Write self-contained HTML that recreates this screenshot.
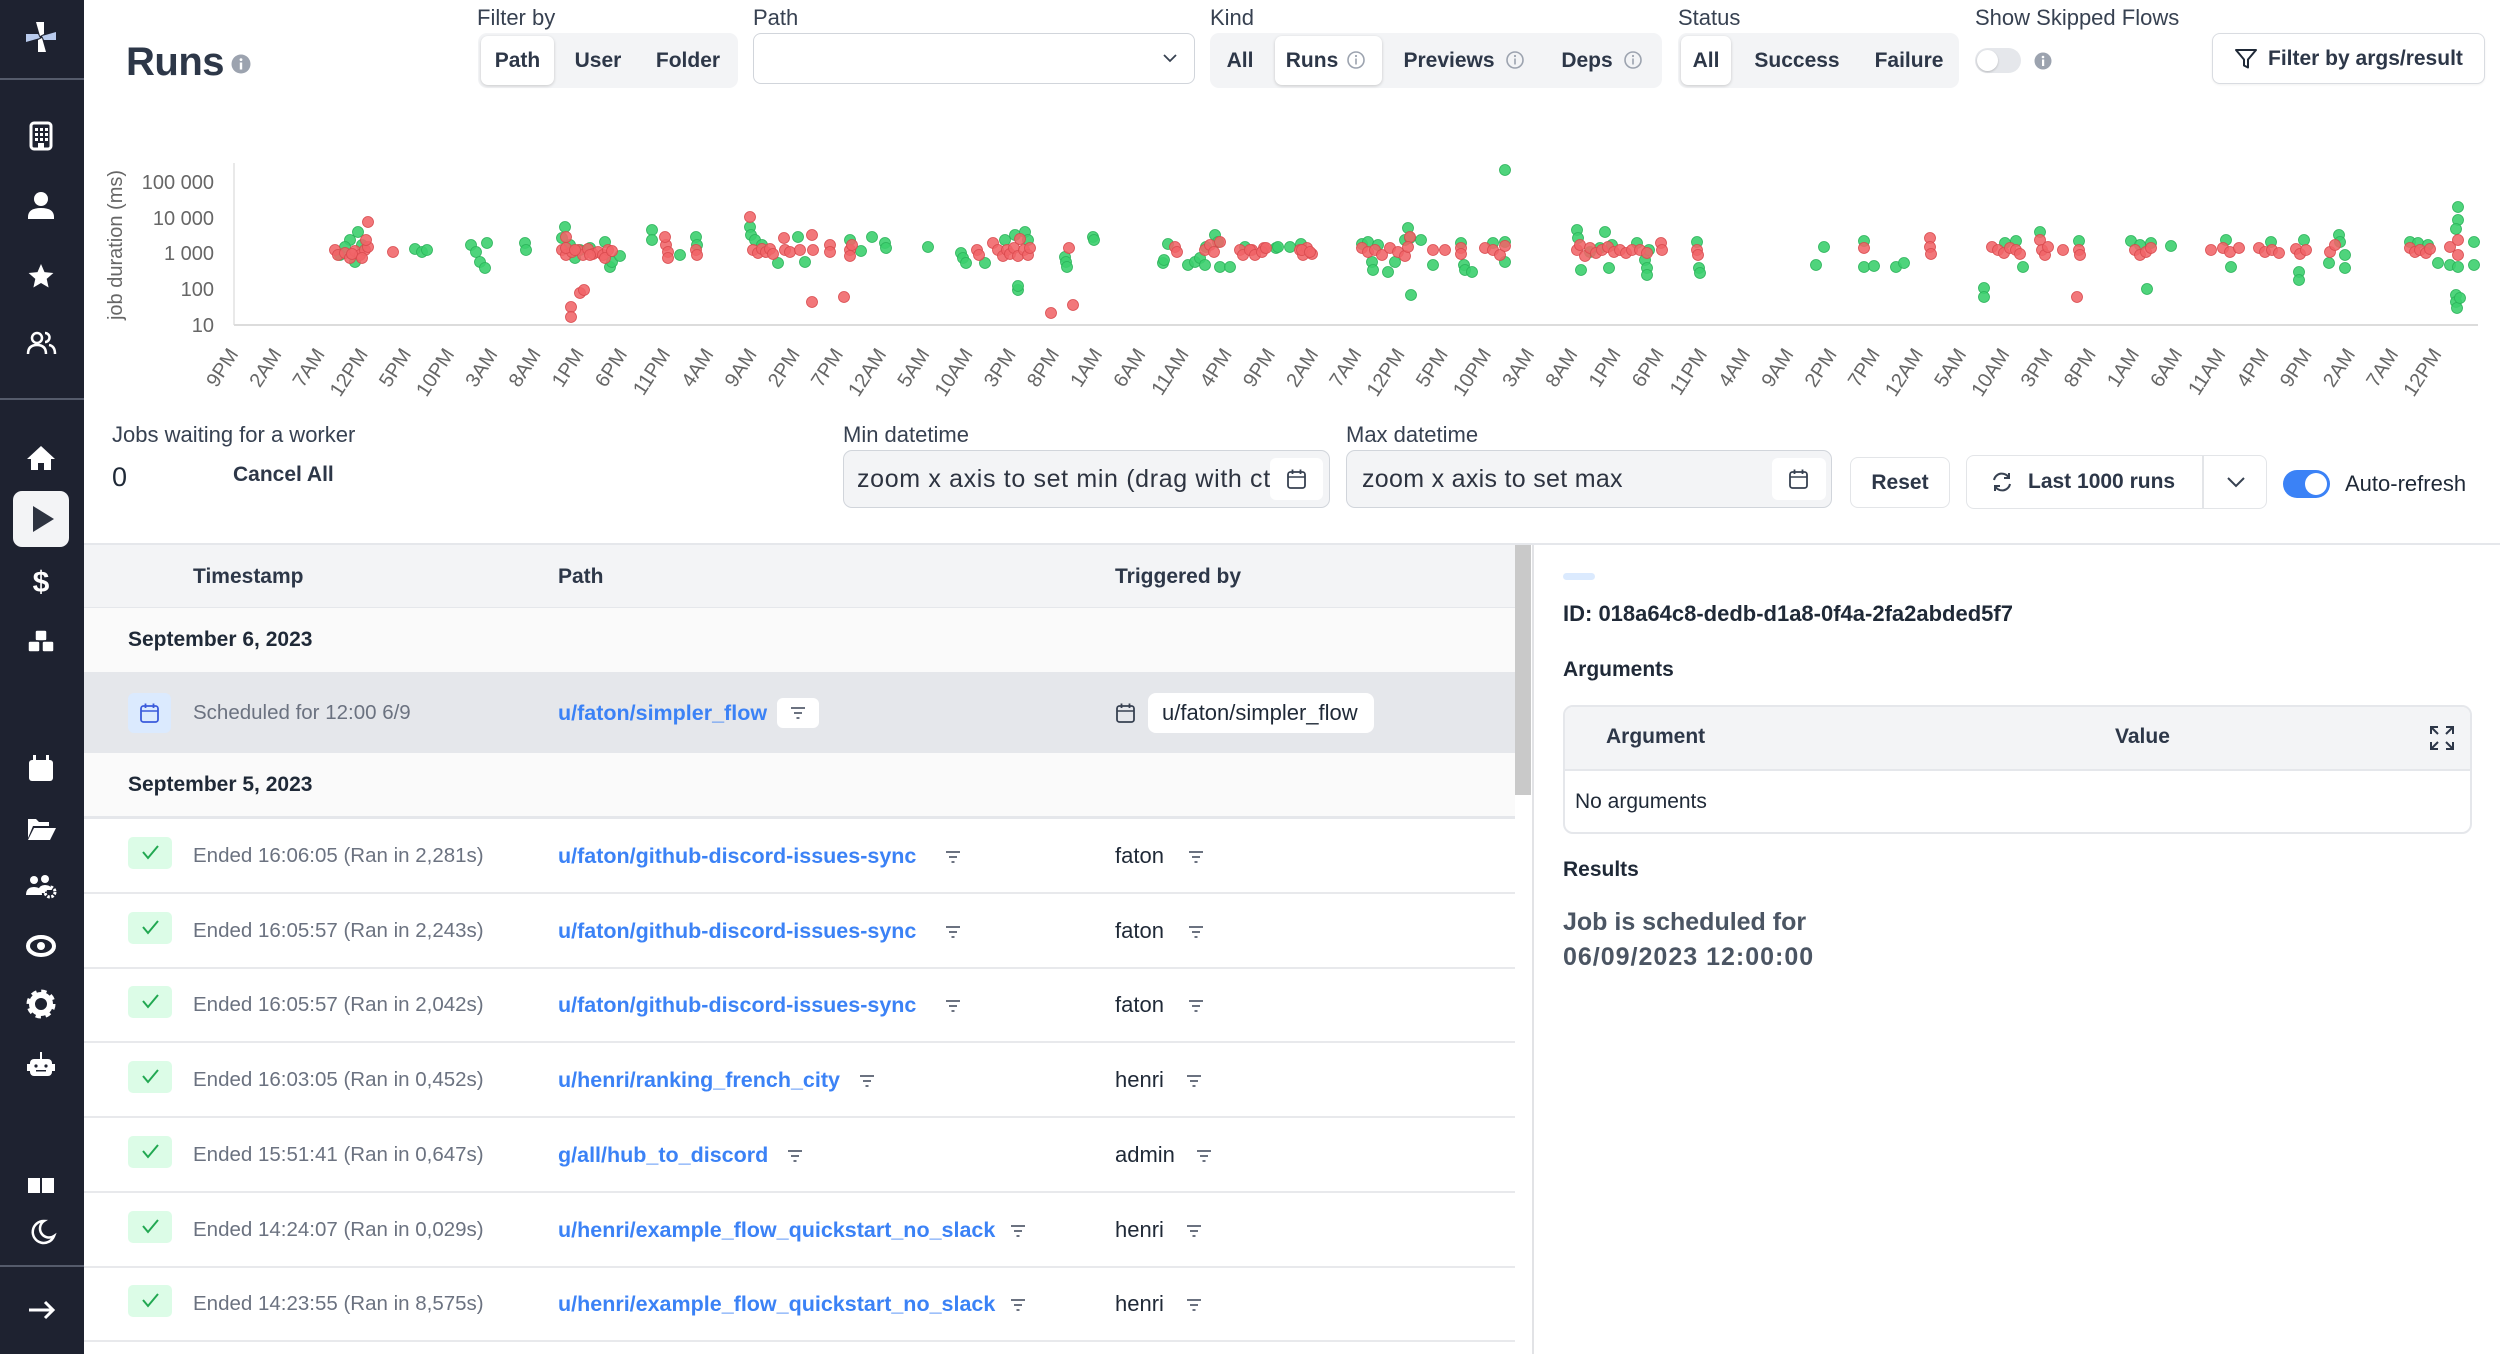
<!DOCTYPE html>
<html><head><meta charset="utf-8">
<style>
*{box-sizing:border-box;margin:0;padding:0}
html,body{width:2500px;height:1354px;overflow:hidden;background:#fff;font-family:"Liberation Sans",Arial,sans-serif;color:#1f2937}
.a{position:absolute}
.c{position:absolute;display:flex;align-items:center;justify-content:center;white-space:nowrap}
.l{position:absolute;display:flex;align-items:center;white-space:nowrap}
.b{font-weight:bold;font-size:21px;color:#2d3748}
.lab{font-size:22px;color:#374151}
.seg{position:absolute;background:#f3f4f6;border-radius:9px}
.sel{position:absolute;background:#fff;border-radius:7px;box-shadow:0 1px 3px rgba(0,0,0,.18)}
.g{font-size:20.5px;color:#6b7280}
.lk{font-size:21.5px;font-weight:bold;color:#3b82f6}
.tb{font-size:22px;color:#1f2937}
.ok{position:absolute;left:128px;width:44px;height:32px;background:#dcfce7;border-radius:5px}
.sep{position:absolute;left:84px;width:1431px;height:2px;background:#e8e9ec}
</style></head><body>

<!-- SIDEBAR -->
<svg class="a" style="left:0;top:0" width="84" height="1354">
<rect width="84" height="1354" fill="#1e2230"/>
<rect x="0" y="78" width="84" height="2" fill="#555b6b"/>
<rect x="0" y="398" width="84" height="2" fill="#555b6b"/>
<rect x="0" y="1265" width="84" height="2" fill="#555b6b"/>
<g transform="translate(41,37)">
<polygon points="-1,-1 -5,-15 3,-15 3,-3" fill="#fff"/>
<polygon points="-1,-1 -5,-15 3,-15 3,-3" fill="#b9cbed" transform="rotate(90)"/>
<polygon points="-1,-1 -5,-15 3,-15 3,-3" fill="#fff" transform="rotate(180)"/>
<polygon points="-1,-1 -5,-15 3,-15 3,-3" fill="#b9cbed" transform="rotate(270)"/>
</g>
<g fill="#fff">
<rect x="31" y="123" width="20" height="26" rx="3" fill="none" stroke="#fff" stroke-width="3"/>
<rect x="35" y="128" width="3" height="3"/><rect x="40" y="128" width="3" height="3"/><rect x="45" y="128" width="3" height="3"/>
<rect x="35" y="133" width="3" height="3"/><rect x="40" y="133" width="3" height="3"/><rect x="45" y="133" width="3" height="3"/>
<rect x="35" y="138" width="3" height="3"/><rect x="40" y="138" width="3" height="3"/><rect x="45" y="138" width="3" height="3"/>
<rect x="38" y="143" width="6" height="6"/>
<circle cx="41" cy="199" r="7"/>
<path d="M28,217 q0,-9 13,-9 q13,0 13,9 v2 h-26z"/>
<polygon points="41,264 44.5,272.1 53.4,273 46.7,278.9 48.6,287.5 41,283 33.4,287.5 35.3,278.9 28.6,273 37.5,272.1"/>
<g fill="none" stroke="#fff" stroke-width="2.5"><circle cx="37" cy="338" r="5"/><path d="M28,354 q0,-9 9,-9 q9,0 9,9"/><path d="M45,333 a4.5,4.5 0 0 1 0,9"/><path d="M49,345 q6,1 6,9"/></g>
<polygon points="41,446 27,459 31,459 31,470 38,470 38,463 44,463 44,470 51,470 51,459 55,459"/>
<rect x="13" y="491" width="56" height="56" rx="9" fill="#f3f4f6"/>
<polygon points="33,506 33,532 54,519" fill="#2d3340"/>
<text x="41" y="592" text-anchor="middle" font-size="30" font-weight="bold" font-family="Liberation Sans">$</text>
<rect x="35" y="630" width="12" height="11" rx="2" stroke="#1e2230" stroke-width="1.5"/>
<rect x="28" y="641" width="12" height="11" rx="2" stroke="#1e2230" stroke-width="1.5"/>
<rect x="42" y="641" width="12" height="11" rx="2" stroke="#1e2230" stroke-width="1.5"/>
<rect x="29" y="760" width="24" height="21" rx="3"/>
<rect x="33" y="755" width="3" height="7"/><rect x="46" y="755" width="3" height="7"/>
<path d="M28,819 h8 l3,3 h10 v4 h-16 l-5,12 z"/>
<path d="M34,828 h22 l-6,12 h-22z"/>
<circle cx="34" cy="880" r="4"/><circle cx="45" cy="879" r="4"/>
<path d="M26,895 q0,-8 8,-8 q8,0 8,8z"/>
<path d="M38,893 q0,-8 7,-8 q6,0 7,5 h-7 v3z"/>
<circle cx="50" cy="892" r="5" fill="none" stroke="#fff" stroke-width="3" stroke-dasharray="2.5 1.5"/>
<ellipse cx="41" cy="946" rx="13" ry="9" fill="none" stroke="#fff" stroke-width="4"/>
<circle cx="41" cy="946" r="4"/>
<circle cx="41" cy="1004" r="9" fill="none" stroke="#fff" stroke-width="6"/>
<circle cx="41" cy="1004" r="12" fill="none" stroke="#fff" stroke-width="5" stroke-dasharray="5 4.4"/>
<rect x="30" y="1059" width="22" height="17" rx="4"/>
<rect x="27" y="1064" width="3" height="7"/><rect x="52" y="1064" width="3" height="7"/>
<rect x="40" y="1052" width="2" height="7"/>
<circle cx="36" cy="1066" r="1.6" fill="#1e2230"/><circle cx="46" cy="1066" r="1.6" fill="#1e2230"/>
<rect x="36" y="1070" width="10" height="1.5" fill="#1e2230"/>
<rect x="28" y="1178" width="12" height="15"/><rect x="42" y="1178" width="12" height="15"/>
<path d="M44,1221 a11,11 0 1 0 10,15 a9,9 0 0 1 -10,-15z" fill="none" stroke="#fff" stroke-width="2.5"/>
<line x1="29" y1="1310" x2="53" y2="1310" stroke="#fff" stroke-width="3"/>
<polyline points="45,1302 53,1310 45,1318" fill="none" stroke="#fff" stroke-width="3"/>
</g>
</svg>

<!-- HEADER -->
<div class="a" style="left:126px;top:42px;font-size:40px;font-weight:bold;color:#2d3748;letter-spacing:-0.5px;line-height:1">Runs</div>
<svg class="a" style="left:231px;top:54px" width="20" height="20"><circle cx="10" cy="10" r="9.5" fill="#9ca3af"/><rect x="8.8" y="8.5" width="2.4" height="7" fill="#fff"/><circle cx="10" cy="5.6" r="1.4" fill="#fff"/></svg>

<div class="l lab" style="left:477px;top:0;height:36px">Filter by</div>
<div class="l lab" style="left:753px;top:0;height:36px">Path</div>
<div class="l lab" style="left:1210px;top:0;height:36px">Kind</div>
<div class="l lab" style="left:1678px;top:0;height:36px">Status</div>
<div class="l lab" style="left:1975px;top:0;height:36px">Show Skipped Flows</div>

<div class="seg" style="left:478px;top:33px;width:260px;height:55px"></div>
<div class="sel" style="left:481px;top:36px;width:73px;height:49px"></div>
<div class="c b" style="left:481px;top:36px;width:73px;height:49px">Path</div>
<div class="c b" style="left:558px;top:36px;width:80px;height:49px">User</div>
<div class="c b" style="left:648px;top:36px;width:80px;height:49px">Folder</div>

<div class="a" style="left:753px;top:33px;width:442px;height:51px;border:1.5px solid #d1d5db;border-radius:8px;background:#fff"></div>
<svg class="a" style="left:1162px;top:52px" width="16" height="12"><polyline points="2,3 8,9 14,3" fill="none" stroke="#374151" stroke-width="1.8"/></svg>

<div class="seg" style="left:1210px;top:33px;width:452px;height:55px"></div>
<div class="sel" style="left:1275px;top:36px;width:107px;height:49px"></div>
<div class="c b" style="left:1220px;top:36px;width:40px;height:49px">All</div>
<div class="c b" style="left:1282px;top:36px;width:60px;height:49px">Runs</div>
<div class="c b" style="left:1404px;top:36px;width:90px;height:49px">Previews</div>
<div class="c b" style="left:1557px;top:36px;width:60px;height:49px">Deps</div>
<svg class="a" style="left:1346px;top:50px" width="20" height="20"><circle cx="10" cy="10" r="8" fill="none" stroke="#9ca3af" stroke-width="1.6"/><rect x="9.2" y="8.5" width="1.6" height="6" fill="#9ca3af"/><circle cx="10" cy="6" r="1.1" fill="#9ca3af"/></svg>
<svg class="a" style="left:1505px;top:50px" width="20" height="20"><circle cx="10" cy="10" r="8" fill="none" stroke="#9ca3af" stroke-width="1.6"/><rect x="9.2" y="8.5" width="1.6" height="6" fill="#9ca3af"/><circle cx="10" cy="6" r="1.1" fill="#9ca3af"/></svg>
<svg class="a" style="left:1623px;top:50px" width="20" height="20"><circle cx="10" cy="10" r="8" fill="none" stroke="#9ca3af" stroke-width="1.6"/><rect x="9.2" y="8.5" width="1.6" height="6" fill="#9ca3af"/><circle cx="10" cy="6" r="1.1" fill="#9ca3af"/></svg>

<div class="seg" style="left:1678px;top:33px;width:281px;height:55px"></div>
<div class="sel" style="left:1681px;top:36px;width:50px;height:49px"></div>
<div class="c b" style="left:1681px;top:36px;width:50px;height:49px">All</div>
<div class="c b" style="left:1752px;top:36px;width:90px;height:49px">Success</div>
<div class="c b" style="left:1864px;top:36px;width:90px;height:49px">Failure</div>

<div class="a" style="left:1975px;top:48px;width:46px;height:25px;border-radius:13px;background:#e5e7eb"></div>
<div class="a" style="left:1977px;top:50px;width:21px;height:21px;border-radius:50%;background:#fff;box-shadow:0 1px 2px rgba(0,0,0,.2)"></div>
<svg class="a" style="left:2034px;top:52px" width="18" height="18"><circle cx="9" cy="9" r="8.5" fill="#9ca3af"/><rect x="8" y="7.5" width="2.2" height="6.5" fill="#fff"/><circle cx="9" cy="5" r="1.3" fill="#fff"/></svg>

<div class="a" style="left:2212px;top:33px;width:273px;height:51px;border:1.5px solid #d9dce1;border-radius:8px;background:#fff;box-shadow:0 1px 2px rgba(0,0,0,.06)"></div>
<svg class="a" style="left:2234px;top:47px" width="24" height="24"><path d="M2,3 h20 l-8,9.5 v8 l-4,-2 v-6z" fill="none" stroke="#1f2937" stroke-width="2" stroke-linejoin="round"/></svg>
<div class="l b" style="left:2268px;top:33px;height:51px">Filter by args/result</div>

<!-- CHART -->
<svg class="a" style="left:0;top:0" width="2500" height="420" font-family="Liberation Sans, Arial, sans-serif">
<line x1="234" y1="163" x2="234" y2="325" stroke="#e2e2e2" stroke-width="1.5"/>
<line x1="234" y1="325" x2="2478" y2="325" stroke="#dcdcdc" stroke-width="2"/>
<g font-size="20" fill="#666" text-anchor="end">
<text x="214" y="189">100 000</text>
<text x="214" y="225">10 000</text>
<text x="214" y="260">1 000</text>
<text x="214" y="296">100</text>
<text x="214" y="332">10</text>
</g>
<text transform="translate(122,245) rotate(-90)" text-anchor="middle" font-size="20" fill="#666">job duration (ms)</text>
<g font-size="20" fill="#666" text-anchor="end">
<text transform="translate(239,354) rotate(-57)">9PM</text>
<text transform="translate(282.2,354) rotate(-57)">2AM</text>
<text transform="translate(325.4,354) rotate(-57)">7AM</text>
<text transform="translate(368.6,354) rotate(-57)">12PM</text>
<text transform="translate(411.8,354) rotate(-57)">5PM</text>
<text transform="translate(455,354) rotate(-57)">10PM</text>
<text transform="translate(498.2,354) rotate(-57)">3AM</text>
<text transform="translate(541.4,354) rotate(-57)">8AM</text>
<text transform="translate(584.6,354) rotate(-57)">1PM</text>
<text transform="translate(627.8,354) rotate(-57)">6PM</text>
<text transform="translate(671,354) rotate(-57)">11PM</text>
<text transform="translate(714.2,354) rotate(-57)">4AM</text>
<text transform="translate(757.4,354) rotate(-57)">9AM</text>
<text transform="translate(800.6,354) rotate(-57)">2PM</text>
<text transform="translate(843.8,354) rotate(-57)">7PM</text>
<text transform="translate(887,354) rotate(-57)">12AM</text>
<text transform="translate(930.2,354) rotate(-57)">5AM</text>
<text transform="translate(973.4,354) rotate(-57)">10AM</text>
<text transform="translate(1016.6,354) rotate(-57)">3PM</text>
<text transform="translate(1059.8,354) rotate(-57)">8PM</text>
<text transform="translate(1103,354) rotate(-57)">1AM</text>
<text transform="translate(1146.2,354) rotate(-57)">6AM</text>
<text transform="translate(1189.4,354) rotate(-57)">11AM</text>
<text transform="translate(1232.6,354) rotate(-57)">4PM</text>
<text transform="translate(1275.8,354) rotate(-57)">9PM</text>
<text transform="translate(1319,354) rotate(-57)">2AM</text>
<text transform="translate(1362.2,354) rotate(-57)">7AM</text>
<text transform="translate(1405.4,354) rotate(-57)">12PM</text>
<text transform="translate(1448.6,354) rotate(-57)">5PM</text>
<text transform="translate(1491.8,354) rotate(-57)">10PM</text>
<text transform="translate(1535,354) rotate(-57)">3AM</text>
<text transform="translate(1578.2,354) rotate(-57)">8AM</text>
<text transform="translate(1621.4,354) rotate(-57)">1PM</text>
<text transform="translate(1664.6,354) rotate(-57)">6PM</text>
<text transform="translate(1707.8,354) rotate(-57)">11PM</text>
<text transform="translate(1751,354) rotate(-57)">4AM</text>
<text transform="translate(1794.2,354) rotate(-57)">9AM</text>
<text transform="translate(1837.4,354) rotate(-57)">2PM</text>
<text transform="translate(1880.6,354) rotate(-57)">7PM</text>
<text transform="translate(1923.8,354) rotate(-57)">12AM</text>
<text transform="translate(1967,354) rotate(-57)">5AM</text>
<text transform="translate(2010.2,354) rotate(-57)">10AM</text>
<text transform="translate(2053.4,354) rotate(-57)">3PM</text>
<text transform="translate(2096.6,354) rotate(-57)">8PM</text>
<text transform="translate(2139.8,354) rotate(-57)">1AM</text>
<text transform="translate(2183,354) rotate(-57)">6AM</text>
<text transform="translate(2226.2,354) rotate(-57)">11AM</text>
<text transform="translate(2269.4,354) rotate(-57)">4PM</text>
<text transform="translate(2312.6,354) rotate(-57)">9PM</text>
<text transform="translate(2355.8,354) rotate(-57)">2AM</text>
<text transform="translate(2399,354) rotate(-57)">7AM</text>
<text transform="translate(2442.2,354) rotate(-57)">12PM</text>
</g>
<!-- green points -->
<g fill="#3ccf6e" fill-opacity="0.9" stroke="#2bb35a" stroke-width="0.8">
<circle cx="350" cy="240" r="5.5"/><circle cx="345" cy="247" r="5.5"/><circle cx="355" cy="262" r="5.5"/><circle cx="358" cy="232" r="5.5"/><circle cx="362" cy="245" r="5.5"/><circle cx="340" cy="255" r="5.5"/>
<circle cx="415" cy="249" r="5.5"/><circle cx="422" cy="252" r="5.5"/><circle cx="427" cy="250" r="5.5"/>
<circle cx="471" cy="245" r="5.5"/><circle cx="476" cy="252" r="5.5"/><circle cx="480" cy="262" r="5.5"/><circle cx="485" cy="268" r="5.5"/><circle cx="487" cy="243" r="5.5"/>
<circle cx="525" cy="243" r="5.5"/><circle cx="526" cy="250" r="5.5"/>
<circle cx="562" cy="238" r="5.5"/><circle cx="565" cy="227" r="5.5"/><circle cx="570" cy="245" r="5.5"/><circle cx="575" cy="258" r="5.5"/><circle cx="580" cy="250" r="5.5"/><circle cx="590" cy="248" r="5.5"/><circle cx="605" cy="242" r="5.5"/><circle cx="610" cy="267" r="5.5"/><circle cx="612" cy="262" r="5.5"/><circle cx="620" cy="256" r="5.5"/>
<circle cx="652" cy="230" r="5.5"/><circle cx="652" cy="240" r="5.5"/><circle cx="680" cy="255" r="5.5"/><circle cx="696" cy="237" r="5.5"/><circle cx="697" cy="245" r="5.5"/>
<circle cx="750" cy="227" r="5.5"/><circle cx="751" cy="235" r="5.5"/><circle cx="755" cy="240" r="5.5"/><circle cx="762" cy="245" r="5.5"/><circle cx="778" cy="263" r="5.5"/><circle cx="798" cy="237" r="5.5"/><circle cx="805" cy="262" r="5.5"/><circle cx="850" cy="240" r="5.5"/><circle cx="861" cy="251" r="5.5"/><circle cx="872" cy="237" r="5.5"/><circle cx="885" cy="243" r="5.5"/><circle cx="886" cy="248" r="5.5"/>
<circle cx="928" cy="247" r="5.5"/>
<circle cx="961" cy="253" r="5.5"/><circle cx="963" cy="258" r="5.5"/><circle cx="966" cy="263" r="5.5"/><circle cx="985" cy="263" r="5.5"/><circle cx="1005" cy="240" r="5.5"/><circle cx="1015" cy="235" r="5.5"/><circle cx="1018" cy="290" r="5.5"/><circle cx="1018" cy="286" r="5.5"/><circle cx="1025" cy="232" r="5.5"/><circle cx="1028" cy="240" r="5.5"/>
<circle cx="1065" cy="257" r="5.5"/><circle cx="1066" cy="262" r="5.5"/><circle cx="1067" cy="267" r="5.5"/><circle cx="1093" cy="237" r="5.5"/><circle cx="1094" cy="240" r="5.5"/>
<circle cx="1163" cy="263" r="5.5"/><circle cx="1164" cy="260" r="5.5"/><circle cx="1168" cy="244" r="5.5"/><circle cx="1188" cy="265" r="5.5"/><circle cx="1195" cy="262" r="5.5"/><circle cx="1200" cy="258" r="5.5"/><circle cx="1205" cy="265" r="5.5"/><circle cx="1206" cy="247" r="5.5"/><circle cx="1215" cy="235" r="5.5"/><circle cx="1218" cy="242" r="5.5"/><circle cx="1220" cy="267" r="5.5"/><circle cx="1230" cy="267" r="5.5"/><circle cx="1245" cy="247" r="5.5"/><circle cx="1276" cy="248" r="5.5"/><circle cx="1290" cy="247" r="5.5"/><circle cx="1301" cy="244" r="5.5"/><circle cx="1278" cy="247" r="5.5"/>
<circle cx="1362" cy="244" r="5.5"/><circle cx="1368" cy="242" r="5.5"/><circle cx="1372" cy="262" r="5.5"/><circle cx="1373" cy="270" r="5.5"/><circle cx="1378" cy="245" r="5.5"/><circle cx="1388" cy="272" r="5.5"/><circle cx="1395" cy="262" r="5.5"/><circle cx="1405" cy="240" r="5.5"/><circle cx="1408" cy="228" r="5.5"/><circle cx="1410" cy="238" r="5.5"/><circle cx="1411" cy="295" r="5.5"/><circle cx="1421" cy="240" r="5.5"/><circle cx="1433" cy="265" r="5.5"/><circle cx="1461" cy="243" r="5.5"/><circle cx="1464" cy="265" r="5.5"/><circle cx="1465" cy="270" r="5.5"/><circle cx="1472" cy="272" r="5.5"/><circle cx="1493" cy="243" r="5.5"/><circle cx="1505" cy="242" r="5.5"/><circle cx="1505" cy="262" r="5.5"/><circle cx="1505" cy="170" r="5.5"/>
<circle cx="1577" cy="230" r="5.5"/><circle cx="1578" cy="238" r="5.5"/><circle cx="1581" cy="270" r="5.5"/><circle cx="1590" cy="252" r="5.5"/><circle cx="1600" cy="248" r="5.5"/><circle cx="1605" cy="232" r="5.5"/><circle cx="1609" cy="268" r="5.5"/><circle cx="1612" cy="245" r="5.5"/><circle cx="1637" cy="243" r="5.5"/><circle cx="1645" cy="260" r="5.5"/><circle cx="1647" cy="268" r="5.5"/><circle cx="1647" cy="275" r="5.5"/><circle cx="1649" cy="250" r="5.5"/>
<circle cx="1697" cy="242" r="5.5"/><circle cx="1699" cy="268" r="5.5"/><circle cx="1700" cy="273" r="5.5"/>
<circle cx="1816" cy="265" r="5.5"/><circle cx="1824" cy="247" r="5.5"/><circle cx="1864" cy="241" r="5.5"/><circle cx="1864" cy="267" r="5.5"/><circle cx="1874" cy="266" r="5.5"/><circle cx="1896" cy="267" r="5.5"/><circle cx="1904" cy="263" r="5.5"/>
<circle cx="1984" cy="288" r="5.5"/><circle cx="1984" cy="297" r="5.5"/><circle cx="2005" cy="243" r="5.5"/><circle cx="2016" cy="241" r="5.5"/><circle cx="2023" cy="267" r="5.5"/><circle cx="2040" cy="232" r="5.5"/><circle cx="2079" cy="241" r="5.5"/>
<circle cx="2131" cy="241" r="5.5"/><circle cx="2140" cy="245" r="5.5"/><circle cx="2147" cy="289" r="5.5"/><circle cx="2151" cy="243" r="5.5"/><circle cx="2171" cy="246" r="5.5"/>
<circle cx="2226" cy="240" r="5.5"/><circle cx="2231" cy="267" r="5.5"/><circle cx="2271" cy="242" r="5.5"/><circle cx="2304" cy="240" r="5.5"/><circle cx="2299" cy="272" r="5.5"/><circle cx="2299" cy="280" r="5.5"/><circle cx="2329" cy="263" r="5.5"/><circle cx="2339" cy="235" r="5.5"/><circle cx="2340" cy="242" r="5.5"/><circle cx="2345" cy="255" r="5.5"/><circle cx="2345" cy="268" r="5.5"/>
<circle cx="2410" cy="242" r="5.5"/><circle cx="2418" cy="243" r="5.5"/><circle cx="2428" cy="245" r="5.5"/><circle cx="2458" cy="207" r="5.5"/><circle cx="2458" cy="220" r="5.5"/><circle cx="2456" cy="229" r="5.5"/><circle cx="2438" cy="263" r="5.5"/><circle cx="2450" cy="265" r="5.5"/><circle cx="2458" cy="267" r="5.5"/><circle cx="2474" cy="242" r="5.5"/><circle cx="2474" cy="265" r="5.5"/><circle cx="2456" cy="295" r="5.5"/><circle cx="2456" cy="302" r="5.5"/><circle cx="2457" cy="308" r="5.5"/><circle cx="2460" cy="298" r="5.5"/>
</g>
<!-- red points -->
<g fill="#f06468" fill-opacity="0.88" stroke="#d94a4e" stroke-width="0.8">
<circle cx="335" cy="250" r="5.5"/><circle cx="338" cy="255" r="5.5"/><circle cx="345" cy="253" r="5.5"/><circle cx="350" cy="258" r="5.5"/><circle cx="355" cy="251" r="5.5"/><circle cx="360" cy="255" r="5.5"/><circle cx="365" cy="250" r="5.5"/><circle cx="368" cy="247" r="5.5"/><circle cx="366" cy="240" r="5.5"/><circle cx="368" cy="222" r="5.5"/><circle cx="352" cy="254" r="5.5"/><circle cx="362" cy="258" r="5.5"/>
<circle cx="393" cy="252" r="5.5"/>
<circle cx="562" cy="250" r="5.5"/><circle cx="566" cy="255" r="5.5"/><circle cx="572" cy="252" r="5.5"/><circle cx="578" cy="250" r="5.5"/><circle cx="583" cy="255" r="5.5"/><circle cx="588" cy="249" r="5.5"/><circle cx="593" cy="254" r="5.5"/><circle cx="598" cy="252" r="5.5"/><circle cx="603" cy="255" r="5.5"/><circle cx="608" cy="250" r="5.5"/><circle cx="605" cy="258" r="5.5"/><circle cx="612" cy="251" r="5.5"/><circle cx="566" cy="237" r="5.5"/><circle cx="566" cy="248" r="5.5"/><circle cx="575" cy="250" r="5.5"/><circle cx="590" cy="255" r="5.5"/><circle cx="580" cy="293" r="5.5"/><circle cx="584" cy="290" r="5.5"/><circle cx="571" cy="307" r="5.5"/><circle cx="571" cy="317" r="5.5"/>
<circle cx="666" cy="245" r="5.5"/><circle cx="668" cy="252" r="5.5"/><circle cx="668" cy="258" r="5.5"/><circle cx="665" cy="237" r="5.5"/><circle cx="696" cy="250" r="5.5"/><circle cx="697" cy="255" r="5.5"/>
<circle cx="750" cy="217" r="5.5"/><circle cx="753" cy="250" r="5.5"/><circle cx="758" cy="253" r="5.5"/><circle cx="762" cy="249" r="5.5"/><circle cx="766" cy="252" r="5.5"/><circle cx="770" cy="249" r="5.5"/><circle cx="773" cy="254" r="5.5"/>
<circle cx="784" cy="238" r="5.5"/><circle cx="785" cy="250" r="5.5"/><circle cx="790" cy="252" r="5.5"/><circle cx="800" cy="250" r="5.5"/><circle cx="812" cy="235" r="5.5"/><circle cx="813" cy="250" r="5.5"/><circle cx="812" cy="302" r="5.5"/><circle cx="830" cy="245" r="5.5"/><circle cx="830" cy="252" r="5.5"/><circle cx="844" cy="297" r="5.5"/><circle cx="850" cy="250" r="5.5"/><circle cx="850" cy="256" r="5.5"/><circle cx="852" cy="245" r="5.5"/>
<circle cx="977" cy="250" r="5.5"/><circle cx="979" cy="255" r="5.5"/><circle cx="993" cy="243" r="5.5"/><circle cx="998" cy="250" r="5.5"/><circle cx="1003" cy="256" r="5.5"/><circle cx="1007" cy="250" r="5.5"/><circle cx="1010" cy="254" r="5.5"/><circle cx="1014" cy="248" r="5.5"/><circle cx="1018" cy="256" r="5.5"/><circle cx="1020" cy="239" r="5.5"/><circle cx="1024" cy="250" r="5.5"/><circle cx="1028" cy="255" r="5.5"/><circle cx="1030" cy="248" r="5.5"/>
<circle cx="1051" cy="313" r="5.5"/><circle cx="1069" cy="248" r="5.5"/><circle cx="1073" cy="305" r="5.5"/>
<circle cx="1175" cy="247" r="5.5"/><circle cx="1177" cy="252" r="5.5"/><circle cx="1205" cy="250" r="5.5"/><circle cx="1210" cy="245" r="5.5"/><circle cx="1214" cy="252" r="5.5"/><circle cx="1220" cy="242" r="5.5"/><circle cx="1240" cy="250" r="5.5"/><circle cx="1243" cy="255" r="5.5"/><circle cx="1252" cy="250" r="5.5"/><circle cx="1264" cy="248" r="5.5"/><circle cx="1300" cy="250" r="5.5"/><circle cx="1303" cy="255" r="5.5"/><circle cx="1307" cy="248" r="5.5"/><circle cx="1312" cy="254" r="5.5"/>
<circle cx="1250" cy="250" r="5.5"/><circle cx="1255" cy="255" r="5.5"/><circle cx="1262" cy="252" r="5.5"/><circle cx="1266" cy="248" r="5.5"/><circle cx="1302" cy="250" r="5.5"/><circle cx="1310" cy="252" r="5.5"/>
<circle cx="1362" cy="248" r="5.5"/><circle cx="1368" cy="252" r="5.5"/><circle cx="1375" cy="250" r="5.5"/><circle cx="1382" cy="255" r="5.5"/><circle cx="1390" cy="248" r="5.5"/><circle cx="1398" cy="252" r="5.5"/><circle cx="1405" cy="256" r="5.5"/><circle cx="1410" cy="237" r="5.5"/><circle cx="1408" cy="247" r="5.5"/><circle cx="1433" cy="250" r="5.5"/><circle cx="1445" cy="250" r="5.5"/><circle cx="1461" cy="248" r="5.5"/><circle cx="1461" cy="254" r="5.5"/><circle cx="1485" cy="248" r="5.5"/><circle cx="1493" cy="250" r="5.5"/><circle cx="1500" cy="255" r="5.5"/><circle cx="1505" cy="246" r="5.5"/>
<circle cx="1577" cy="250" r="5.5"/><circle cx="1580" cy="245" r="5.5"/><circle cx="1585" cy="256" r="5.5"/><circle cx="1590" cy="248" r="5.5"/><circle cx="1596" cy="253" r="5.5"/><circle cx="1602" cy="250" r="5.5"/><circle cx="1608" cy="247" r="5.5"/><circle cx="1614" cy="252" r="5.5"/><circle cx="1620" cy="250" r="5.5"/><circle cx="1626" cy="253" r="5.5"/><circle cx="1632" cy="250" r="5.5"/><circle cx="1640" cy="250" r="5.5"/><circle cx="1647" cy="253" r="5.5"/><circle cx="1661" cy="243" r="5.5"/><circle cx="1662" cy="250" r="5.5"/><circle cx="1697" cy="250" r="5.5"/><circle cx="1698" cy="255" r="5.5"/>
<circle cx="1864" cy="248" r="5.5"/><circle cx="1930" cy="238" r="5.5"/><circle cx="1930" cy="247" r="5.5"/><circle cx="1931" cy="254" r="5.5"/>
<circle cx="1992" cy="247" r="5.5"/><circle cx="1998" cy="250" r="5.5"/><circle cx="2004" cy="253" r="5.5"/><circle cx="2010" cy="248" r="5.5"/><circle cx="2016" cy="250" r="5.5"/><circle cx="2020" cy="254" r="5.5"/><circle cx="2040" cy="240" r="5.5"/><circle cx="2042" cy="250" r="5.5"/><circle cx="2045" cy="255" r="5.5"/><circle cx="2048" cy="247" r="5.5"/><circle cx="2063" cy="250" r="5.5"/><circle cx="2079" cy="250" r="5.5"/><circle cx="2080" cy="255" r="5.5"/><circle cx="2077" cy="297" r="5.5"/>
<circle cx="2135" cy="250" r="5.5"/><circle cx="2140" cy="255" r="5.5"/><circle cx="2146" cy="252" r="5.5"/><circle cx="2151" cy="248" r="5.5"/>
<circle cx="2211" cy="250" r="5.5"/><circle cx="2223" cy="248" r="5.5"/><circle cx="2230" cy="252" r="5.5"/><circle cx="2239" cy="248" r="5.5"/><circle cx="2259" cy="248" r="5.5"/><circle cx="2265" cy="252" r="5.5"/><circle cx="2272" cy="250" r="5.5"/><circle cx="2279" cy="253" r="5.5"/><circle cx="2296" cy="249" r="5.5"/><circle cx="2300" cy="254" r="5.5"/><circle cx="2306" cy="250" r="5.5"/>
<circle cx="2330" cy="252" r="5.5"/><circle cx="2335" cy="245" r="5.5"/>
<circle cx="2410" cy="248" r="5.5"/><circle cx="2415" cy="252" r="5.5"/><circle cx="2420" cy="250" r="5.5"/><circle cx="2426" cy="253" r="5.5"/><circle cx="2430" cy="249" r="5.5"/><circle cx="2450" cy="247" r="5.5"/><circle cx="2458" cy="240" r="5.5"/><circle cx="2458" cy="255" r="5.5"/>
</g>
</svg>

<!-- CONTROLS ROW -->
<div class="l lab" style="left:112px;top:420px;height:30px">Jobs waiting for a worker</div>
<div class="l" style="left:112px;top:462px;height:30px;font-size:27px;color:#1f2937">0</div>
<div class="l b" style="left:233px;top:460px;height:30px">Cancel All</div>

<div class="l lab" style="left:843px;top:420px;height:30px">Min datetime</div>
<div class="a" style="left:843px;top:450px;width:487px;height:58px;background:#f3f4f6;border:1.5px solid #d1d5db;border-radius:9px"></div>
<div class="l" style="left:857px;top:464px;height:30px;width:413px;overflow:hidden;font-size:25px;color:#2d3340;letter-spacing:0.65px">zoom x axis to set min (drag with ctrl)</div>
<div class="a" style="left:1270px;top:458px;width:53px;height:42px;background:#fff;border-radius:6px"></div>
<svg class="a" style="left:1286px;top:468px" width="22" height="22"><rect x="2" y="4" width="17" height="16" rx="2.5" fill="none" stroke="#374151" stroke-width="1.8"/><line x1="2" y1="9" x2="19" y2="9" stroke="#374151" stroke-width="1.6"/><line x1="6.5" y1="1.5" x2="6.5" y2="6" stroke="#374151" stroke-width="1.8"/><line x1="14.5" y1="1.5" x2="14.5" y2="6" stroke="#374151" stroke-width="1.8"/></svg>

<div class="l lab" style="left:1346px;top:420px;height:30px">Max datetime</div>
<div class="a" style="left:1346px;top:450px;width:486px;height:58px;background:#f3f4f6;border:1.5px solid #d1d5db;border-radius:9px"></div>
<div class="l" style="left:1362px;top:464px;height:30px;font-size:25px;color:#2d3340;letter-spacing:0.3px">zoom x axis to set max</div>
<div class="a" style="left:1772px;top:458px;width:54px;height:42px;background:#fff;border-radius:6px"></div>
<svg class="a" style="left:1788px;top:468px" width="22" height="22"><rect x="2" y="4" width="17" height="16" rx="2.5" fill="none" stroke="#374151" stroke-width="1.8"/><line x1="2" y1="9" x2="19" y2="9" stroke="#374151" stroke-width="1.6"/><line x1="6.5" y1="1.5" x2="6.5" y2="6" stroke="#374151" stroke-width="1.8"/><line x1="14.5" y1="1.5" x2="14.5" y2="6" stroke="#374151" stroke-width="1.8"/></svg>

<div class="c b" style="left:1850px;top:457px;width:100px;height:51px;border:1.5px solid #e3e5e8;border-radius:8px;background:#fff">Reset</div>

<div class="a" style="left:1966px;top:455px;width:301px;height:54px;border:1.5px solid #e3e5e8;border-radius:8px;background:#fff"></div>
<div class="a" style="left:2202px;top:456px;width:1.5px;height:52px;background:#e3e5e8"></div>
<svg class="a" style="left:1990px;top:470px" width="24" height="24"><path d="M19,8 A8,8 0 0 0 4,10" fill="none" stroke="#374151" stroke-width="2"/><polyline points="19,3 19,8 14,8" fill="none" stroke="#374151" stroke-width="2"/><path d="M5,16 A8,8 0 0 0 20,14" fill="none" stroke="#374151" stroke-width="2"/><polyline points="5,21 5,16 10,16" fill="none" stroke="#374151" stroke-width="2"/></svg>
<div class="l b" style="left:2028px;top:455px;height:54px">Last 1000 runs</div>
<svg class="a" style="left:2225px;top:474px" width="22" height="16"><polyline points="3,4 11,12 19,4" fill="none" stroke="#374151" stroke-width="2"/></svg>

<div class="a" style="left:2283px;top:470px;width:47px;height:28px;border-radius:14px;background:#3b82f6"></div>
<div class="a" style="left:2305px;top:473px;width:22px;height:22px;border-radius:50%;background:#fff"></div>
<div class="l" style="left:2345px;top:469px;height:30px;font-size:22px;color:#1f2937">Auto-refresh</div>

<!-- TABLE AREA -->
<div class="a" style="left:84px;top:543px;width:2416px;height:2px;background:#e5e7eb"></div>
<div class="a" style="left:84px;top:545px;width:1431px;height:63px;background:#f3f4f6"></div>
<div class="a" style="left:84px;top:607px;width:1431px;height:1.5px;background:#e5e7eb"></div>
<div class="l b" style="left:193px;top:562px;height:30px">Timestamp</div>
<div class="l b" style="left:558px;top:562px;height:30px">Path</div>
<div class="l b" style="left:1115px;top:562px;height:30px">Triggered by</div>

<div class="a" style="left:84px;top:608px;width:1431px;height:64px;background:#fafafa"></div>
<div class="l b" style="left:128px;top:625px;height:30px;color:#1f2937">September 6, 2023</div>

<div class="a" style="left:84px;top:672px;width:1431px;height:81px;background:#e5e7eb"></div>
<div class="a" style="left:128px;top:693px;width:43px;height:40px;background:#dbeafe;border-radius:6px"></div>
<svg class="a" style="left:139px;top:702px" width="22" height="22"><rect x="2" y="4" width="17" height="16" rx="2.5" fill="none" stroke="#3b5bdb" stroke-width="1.8"/><line x1="2" y1="9" x2="19" y2="9" stroke="#3b5bdb" stroke-width="1.6"/><line x1="6.5" y1="1.5" x2="6.5" y2="6" stroke="#3b5bdb" stroke-width="1.8"/><line x1="14.5" y1="1.5" x2="14.5" y2="6" stroke="#3b5bdb" stroke-width="1.8"/></svg>
<div class="l g" style="left:193px;top:698px;height:30px">Scheduled for 12:00 6/9</div>
<div class="l lk" style="left:558px;top:698px;height:30px">u/faton/simpler_flow</div>
<div class="a" style="left:777px;top:698px;width:42px;height:30px;background:#fff;border-radius:6px"></div>
<svg class="a" style="left:790px;top:706px" width="16" height="14"><line x1="1" y1="2" x2="15" y2="2" stroke="#6b7280" stroke-width="2"/><line x1="4" y1="7" x2="12" y2="7" stroke="#6b7280" stroke-width="2"/><line x1="6.5" y1="12" x2="9.5" y2="12" stroke="#6b7280" stroke-width="2"/></svg>
<svg class="a" style="left:1115px;top:702px" width="22" height="22"><rect x="2" y="4" width="17" height="16" rx="2.5" fill="none" stroke="#374151" stroke-width="1.8"/><line x1="2" y1="9" x2="19" y2="9" stroke="#374151" stroke-width="1.6"/><line x1="6.5" y1="1.5" x2="6.5" y2="6" stroke="#374151" stroke-width="1.8"/><line x1="14.5" y1="1.5" x2="14.5" y2="6" stroke="#374151" stroke-width="1.8"/></svg>
<div class="l tb" style="left:1148px;top:693px;width:226px;height:40px;background:#fff;border-radius:8px;padding-left:14px">u/faton/simpler_flow</div>

<div class="a" style="left:84px;top:753px;width:1431px;height:64px;background:#fafafa"></div>
<div class="l b" style="left:128px;top:770px;height:30px;color:#1f2937">September 5, 2023</div>
<div class="a" style="left:84px;top:816px;width:1431px;height:3px;background:#e5e7eb"></div>

<!-- rows -->
<div class="sep" style="top:892px"></div>
<div class="sep" style="top:967px"></div>
<div class="sep" style="top:1041px"></div>
<div class="sep" style="top:1116px"></div>
<div class="sep" style="top:1191px"></div>
<div class="sep" style="top:1266px"></div>
<div class="sep" style="top:1340px"></div>

<svg class="a" style="left:0;top:0" width="1520" height="1354">
<defs>
<g id="ck"><rect x="0" y="0" width="44" height="32" rx="5" fill="#dcfce7"/><polyline points="15,15 20,21 30,9" fill="none" stroke="#22a852" stroke-width="2"/></g>
<g id="fi"><line x1="-7" y1="-5" x2="7" y2="-5" stroke="#6b7280" stroke-width="2"/><line x1="-4" y1="0" x2="4" y2="0" stroke="#6b7280" stroke-width="2"/><line x1="-1.5" y1="5" x2="1.5" y2="5" stroke="#6b7280" stroke-width="2"/></g>
</defs>
<use href="#ck" x="128" y="837"/><use href="#ck" x="128" y="912"/><use href="#ck" x="128" y="986"/><use href="#ck" x="128" y="1061"/><use href="#ck" x="128" y="1136"/><use href="#ck" x="128" y="1211"/><use href="#ck" x="128" y="1285"/>
<use href="#fi" x="953" y="857"/><use href="#fi" x="953" y="932"/><use href="#fi" x="953" y="1006"/><use href="#fi" x="867" y="1081"/><use href="#fi" x="795" y="1156"/><use href="#fi" x="1018" y="1231"/><use href="#fi" x="1018" y="1305"/>
<use href="#fi" x="1196" y="857"/><use href="#fi" x="1196" y="932"/><use href="#fi" x="1196" y="1006"/><use href="#fi" x="1194" y="1081"/><use href="#fi" x="1204" y="1156"/><use href="#fi" x="1194" y="1231"/><use href="#fi" x="1194" y="1305"/>
</svg>

<div class="l g" style="left:193px;top:841px;height:30px">Ended 16:06:05 (Ran in 2,281s)</div>
<div class="l lk" style="left:558px;top:841px;height:30px">u/faton/github-discord-issues-sync</div>
<div class="l tb" style="left:1115px;top:841px;height:30px">faton</div>

<div class="l g" style="left:193px;top:916px;height:30px">Ended 16:05:57 (Ran in 2,243s)</div>
<div class="l lk" style="left:558px;top:916px;height:30px">u/faton/github-discord-issues-sync</div>
<div class="l tb" style="left:1115px;top:916px;height:30px">faton</div>

<div class="l g" style="left:193px;top:990px;height:30px">Ended 16:05:57 (Ran in 2,042s)</div>
<div class="l lk" style="left:558px;top:990px;height:30px">u/faton/github-discord-issues-sync</div>
<div class="l tb" style="left:1115px;top:990px;height:30px">faton</div>

<div class="l g" style="left:193px;top:1065px;height:30px">Ended 16:03:05 (Ran in 0,452s)</div>
<div class="l lk" style="left:558px;top:1065px;height:30px">u/henri/ranking_french_city</div>
<div class="l tb" style="left:1115px;top:1065px;height:30px">henri</div>

<div class="l g" style="left:193px;top:1140px;height:30px">Ended 15:51:41 (Ran in 0,647s)</div>
<div class="l lk" style="left:558px;top:1140px;height:30px">g/all/hub_to_discord</div>
<div class="l tb" style="left:1115px;top:1140px;height:30px">admin</div>

<div class="l g" style="left:193px;top:1215px;height:30px">Ended 14:24:07 (Ran in 0,029s)</div>
<div class="l lk" style="left:558px;top:1215px;height:30px">u/henri/example_flow_quickstart_no_slack</div>
<div class="l tb" style="left:1115px;top:1215px;height:30px">henri</div>

<div class="l g" style="left:193px;top:1289px;height:30px">Ended 14:23:55 (Ran in 8,575s)</div>
<div class="l lk" style="left:558px;top:1289px;height:30px">u/henri/example_flow_quickstart_no_slack</div>
<div class="l tb" style="left:1115px;top:1289px;height:30px">henri</div>

<!-- scrollbar & divider -->
<div class="a" style="left:1515px;top:545px;width:16px;height:250px;background:#c9c9c9"></div>
<div class="a" style="left:1532px;top:545px;width:2px;height:809px;background:#e2e3e6"></div>

<!-- RIGHT PANEL -->
<div class="a" style="left:1563px;top:573px;width:32px;height:7px;background:#dbeafe;border-radius:4px"></div>
<div class="l" style="left:1563px;top:599px;height:30px;font-size:22px;font-weight:bold;color:#1f2937">ID: 018a64c8-dedb-d1a8-0f4a-2fa2abded5f7</div>
<div class="l b" style="left:1563px;top:655px;height:30px;color:#1f2937">Arguments</div>
<div class="a" style="left:1563px;top:705px;width:909px;height:129px;border:2px solid #e5e7eb;border-radius:10px;overflow:hidden;background:#fff">
<div class="a" style="left:0;top:0;width:905px;height:64px;background:#f3f4f6;border-bottom:2px solid #e5e7eb"></div>
</div>
<div class="l b" style="left:1606px;top:722px;height:30px">Argument</div>
<div class="l b" style="left:2115px;top:722px;height:30px">Value</div>
<svg class="a" style="left:2428px;top:724px" width="28" height="28"><g fill="none" stroke="#2d3748" stroke-width="2"><polyline points="3,10 3,3 10,3"/><line x1="3" y1="3" x2="10" y2="10"/><polyline points="18,3 25,3 25,10"/><line x1="25" y1="3" x2="18" y2="10"/><polyline points="3,18 3,25 10,25"/><line x1="3" y1="25" x2="10" y2="18"/><polyline points="25,18 25,25 18,25"/><line x1="25" y1="25" x2="18" y2="18"/></g></svg>
<div class="l" style="left:1575px;top:787px;height:30px;font-size:21px;color:#1f2937">No arguments</div>
<div class="l b" style="left:1563px;top:855px;height:30px;color:#1f2937">Results</div>
<div class="l" style="left:1563px;top:905px;height:34px;font-size:25px;font-weight:bold;color:#4b5563">Job is scheduled for</div>
<div class="l" style="left:1563px;top:940px;height:34px;font-size:25px;font-weight:bold;color:#4b5563;letter-spacing:1px">06/09/2023 12:00:00</div>

</body></html>
